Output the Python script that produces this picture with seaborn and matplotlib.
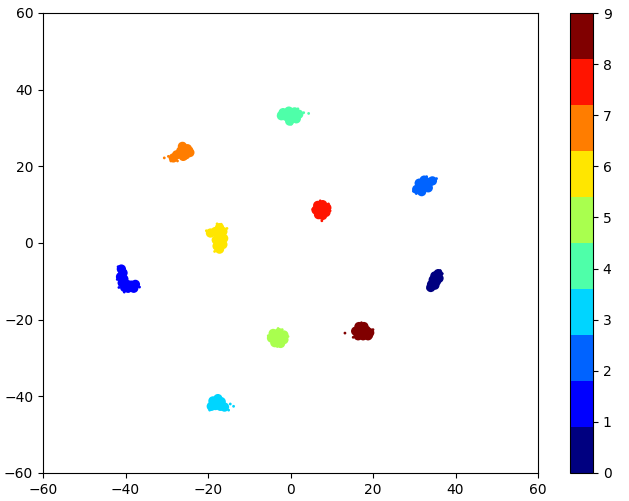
import numpy as np
import pandas as pd
import matplotlib
matplotlib.use("Agg")
import matplotlib.pyplot as plt
import seaborn as sns

# dense core of each cluster
x0 = [35.8, 35.0, 36.0, 34.6, 35.4, 34.2, 35.0, 34.0, 35.6]
y0 = [-8.0, -8.6, -9.2, -9.6, -10.0, -10.8, -11.0, -11.6, -8.6]
x1 = [-41.0, -40.6, -41.2, -40.4, -40.8, -39.6, -38.6, -37.6, -39.4, -38.0, -40.2]
y1 = [-6.8, -7.8, -8.8, -9.4, -10.4, -10.8, -11.0, -10.8, -11.8, -11.8, -11.6]
x2 = [30.6, 31.6, 32.6, 33.6, 34.4, 31.2, 32.4, 33.4, 31.8]
y2 = [14.0, 14.6, 15.2, 15.8, 16.2, 15.6, 16.4, 14.4, 13.4]
x3 = [-18.8, -17.6, -16.8, -18.2, -17.0, -19.2, -16.0]
y3 = [-41.2, -40.6, -41.4, -42.4, -42.6, -42.6, -42.8]
x4 = [-1.8, -0.4, 1.0, 2.0, -1.0, 0.4, 1.4, -0.2, -2.2]
y4 = [34.0, 34.4, 34.2, 33.6, 33.0, 32.8, 32.4, 31.8, 33.2]
x5 = [-4.2, -2.8, -1.6, -4.6, -3.2, -1.6, -3.8, -2.4]
y5 = [-23.6, -23.4, -24.0, -24.8, -24.8, -25.2, -26.0, -26.2]
x6 = [-17.2, -16.4, -18.2, -19.4, -17.2, -16.2, -18.0, -17.0, -17.8, -17.2, -16.4]
y6 = [4.0, 3.0, 3.0, 2.6, 1.8, 1.2, 0.8, 0.0, -0.8, -1.6, -0.4]
x7 = [-26.2, -25.0, -24.4, -26.6, -27.6, -26.0, -28.4, -25.4]
y7 = [25.2, 24.6, 23.6, 24.0, 23.0, 22.6, 22.2, 23.0]
x8 = [6.6, 7.8, 8.8, 6.2, 7.4, 8.6, 6.8, 7.8]
y8 = [9.8, 10.0, 9.2, 8.6, 8.6, 8.0, 7.4, 7.2]
x9 = [16.6, 17.8, 15.8, 17.0, 18.4, 19.2, 16.4, 17.6, 18.8]
y9 = [-21.8, -21.8, -23.0, -23.0, -22.8, -23.4, -24.2, -24.2, -24.2]

# scattered points at the cluster edges
sx0 = [36.8, 33.3, 36.3]
sy0 = [-8.0, -11.9, -7.2]
sx1 = [-41.8, -42.0, -40.3, -36.6, -39.2, -41.6]
sy1 = [-6.2, -9.5, -12.8, -11.5, -12.5, -11.6]
sx2 = [29.8, 35.4, 33.0, 30.5]
sy2 = [13.5, 16.8, 17.3, 12.9]
sx3 = [-14.6, -13.8, -15.0, -19.6, -17.6]
sy3 = [-42.0, -42.6, -43.6, -43.6, -39.8]
sx4 = [3.2, 4.4, -2.8, 0.2, 1.8]
sy4 = [34.0, 33.8, 33.8, 31.0, 35.0]
sx5 = [-5.4, -0.6, -3.0, -3.2, -2.0]
sy5 = [-24.2, -24.4, -22.3, -27.0, -22.6]
sx6 = [-20.4, -15.4, -18.4, -16.8, -17.8]
sy6 = [3.2, 3.8, -2.2, 4.9, 5.0]
sx7 = [-29.6, -30.6, -29.0, -24.0, -26.0, -27.4]
sy7 = [22.6, 22.2, 21.4, 24.6, 26.0, 21.4]
sx8 = [5.4, 9.6, 7.2, 7.6, 9.2]
sy8 = [8.8, 8.4, 11.0, 5.8, 10.2]
sx9 = [13.2, 20.0, 17.2, 15.2, 19.6]
sy9 = [-23.5, -22.6, -20.8, -24.6, -24.4]

digits = list(range(10))
core_x = [x0, x1, x2, x3, x4, x5, x6, x7, x8, x9]
core_y = [y0, y1, y2, y3, y4, y5, y6, y7, y8, y9]
edge_x = [sx0, sx1, sx2, sx3, sx4, sx5, sx6, sx7, sx8, sx9]
edge_y = [sy0, sy1, sy2, sy3, sy4, sy5, sy6, sy7, sy8, sy9]

def to_frame(xs, ys):
    rows = []
    for d, xx, yy in zip(digits, xs, ys):
        for a, b in zip(xx, yy):
            rows.append((a, b, d))
    return pd.DataFrame(rows, columns=["x", "y", "label"])

df_core = to_frame(core_x, core_y)
df_edge = to_frame(edge_x, edge_y)

cmap = plt.get_cmap("jet", 10)
colori = {d: cmap(d) for d in digits}

fig = plt.figure(figsize=(6.29, 5.01), dpi=100)
ax = fig.add_axes([43 / 629, 28 / 501, 495 / 629, 460 / 501])

sns.scatterplot(data=df_core, x="x", y="y", hue="label", palette=colori,
                s=45, linewidth=0, legend=False, ax=ax)
sns.scatterplot(data=df_edge, x="x", y="y", hue="label", palette=colori,
                s=4, linewidth=0, legend=False, ax=ax)

ax.set_xlim(-60, 60)
ax.set_ylim(-60, 60)
ax.set_xlabel("")
ax.set_ylabel("")

cax = fig.add_axes([570 / 629, 28 / 501, 23 / 629, 460 / 501])
sm = plt.cm.ScalarMappable(norm=plt.Normalize(0, 9), cmap=cmap)
cbar = fig.colorbar(sm, cax=cax)
cbar.set_ticks(digits)

fig.savefig("out.png", dpi=100)
